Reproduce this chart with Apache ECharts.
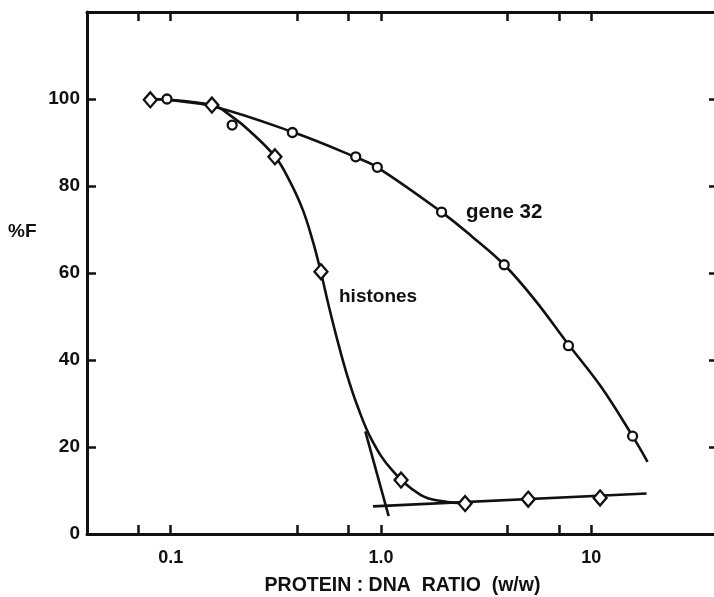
<!DOCTYPE html>
<html>
<head>
<meta charset="utf-8">
<script src="https://cdn.jsdelivr.net/npm/echarts@6/dist/echarts.min.js"></script>
<style>
  html, body { margin: 0; padding: 0; background: #fff; }
  #chart { width: 714px; height: 597px; }
</style>
</head>
<body>
<div id="chart"></div>
<script>
// Fluorescence (%F) versus protein:DNA ratio (w/w), log x scale.

// Measured points: [ratio, %F]
const gene32Points = [
  [0.096, 100], [0.196, 94.0], [0.379, 92.3], [0.758, 86.7], [0.96, 84.3],
  [1.94, 74.0], [3.85, 61.9], [7.78, 43.3], [15.7, 22.5]
];
const histonePoints = [
  [0.08, 99.8], [0.157, 98.6], [0.313, 86.7], [0.518, 60.3],
  [1.245, 12.4], [2.51, 7.0], [5.01, 8.0], [11.0, 8.3]
];

// Hand-drawn fitted curves
const gene32Curve = [
  [0.08, 100], [0.1, 99.7], [0.16, 98.3], [0.38, 92.4], [0.76, 86.6],
  [0.96, 84.3], [1.94, 74.0], [2.72, 68.3], [3.85, 61.9],
  [5.35, 54.0], [7.8, 43.5], [11.1, 33.9], [15.7, 22.5], [18.5, 16.6]
];
const histoneCurve = [
  [0.08, 100], [0.157, 98.6], [0.2, 95.6], [0.238, 92.6], [0.313, 86.8],
  [0.362, 81.8], [0.4225, 74.8], [0.472, 67.6], [0.517, 60.3], [0.565, 52.3],
  [0.619, 44.7], [0.685, 37.0], [0.774, 29.3], [0.902, 21.7], [1.123, 14.8],
  [1.54, 9.0], [1.98, 7.5], [2.5, 7.1]
];
// Straight construction lines: plateau and steep tangent
const plateauLine = [[0.916, 6.35], [18.3, 9.3]];
const tangentLine = [[0.842, 23.6], [1.087, 4.1]];

// Axis ticks and labels
const xTickValues = [0.07, 0.1, 0.4, 0.7, 1, 4, 7, 10];
const xLabelValues = [0.1, 1, 10];
const xLabelText = { 0.1: '0.1', 1: '1.0', 10: '10' };
const yMin = 0, yMax = 120, yStep = 20;

const FONT = '"Liberation Sans", Arial, sans-serif';
const INK = '#111';

const chart = echarts.init(document.getElementById('chart'), null, { renderer: 'canvas' });

const xAxisBase = {
  type: 'log', logBase: 10, min: 0.04, max: 40,
  axisLine: { show: true, onZero: false, lineStyle: { color: INK, width: 3 } },
  axisTick: { show: true, inside: true, length: 9, customValues: xTickValues,
              lineStyle: { color: INK, width: 2.5 } },
  splitLine: { show: false }, minorTick: { show: false }
};
const yAxisBase = {
  type: 'value', min: yMin, max: yMax, interval: yStep,
  axisLine: { show: true, onZero: false, lineStyle: { color: INK, width: 3 } },
  axisTick: { show: true, inside: true, length: 9, lineStyle: { color: INK, width: 2.5 } },
  splitLine: { show: false }
};

const lineSeries = (data, smooth) => ({
  type: 'line', data, smooth, showSymbol: false, symbol: 'none', z: 2,
  lineStyle: { color: INK, width: 2.6 }, silent: true
});

const markerStyle = { color: '#fff', borderColor: INK, borderWidth: 2.3, opacity: 1 };

chart.setOption({
  animation: false,
  backgroundColor: '#fff',
  // the right-hand frame sits just past the page edge; only its ticks show
  grid: { left: 87, right: -4, top: 12, bottom: 63, outerBoundsMode: 'none', containLabel: false },
  xAxis: [
    Object.assign({}, xAxisBase, {
      position: 'bottom',
      name: 'PROTEIN : DNA  RATIO  (w/w)', nameLocation: 'middle', nameGap: 42,
      nameTextStyle: { fontFamily: FONT, fontWeight: 'bold', fontSize: 19.5, color: INK },
      axisLabel: { show: true, customValues: xLabelValues, margin: 15,
        fontFamily: FONT, fontWeight: 'bold', fontSize: 18, color: INK,
        formatter: v => xLabelText[v] !== undefined ? xLabelText[v] : '' }
    }),
    Object.assign({}, xAxisBase, { position: 'top', axisLabel: { show: false } })
  ],
  yAxis: [
    Object.assign({}, yAxisBase, {
      position: 'left',
      axisLabel: { show: true, margin: 7, fontFamily: FONT, fontWeight: 'bold',
        fontSize: 19, color: INK, formatter: v => (v === yMax ? '' : String(v)) }
    }),
    Object.assign({}, yAxisBase, { position: 'right', axisLabel: { show: false } })
  ],
  graphic: [
    { type: 'text', left: 8, top: 222,
      style: { text: '%F', fontFamily: FONT, fontWeight: 'bold', fontSize: 19, fill: INK } },
    { type: 'text', left: 339, top: 287,
      style: { text: 'histones', fontFamily: FONT, fontWeight: 'bold', fontSize: 19, fill: INK } },
    { type: 'text', left: 466, top: 202,
      style: { text: 'gene 32', fontFamily: FONT, fontWeight: 'bold', fontSize: 20.5, fill: INK } }
  ],
  series: [
    lineSeries(gene32Curve, 0.4),
    lineSeries(histoneCurve, 0.4),
    lineSeries(plateauLine, false),
    lineSeries(tangentLine, false),
    { type: 'scatter', data: gene32Points, symbol: 'circle', symbolSize: 9, z: 4,
      itemStyle: markerStyle, emphasis: { disabled: true } },
    { type: 'scatter', data: histonePoints, symbol: 'diamond', symbolSize: [13, 15], z: 4,
      itemStyle: markerStyle, emphasis: { disabled: true } }
  ]
});
</script>
</body>
</html>
